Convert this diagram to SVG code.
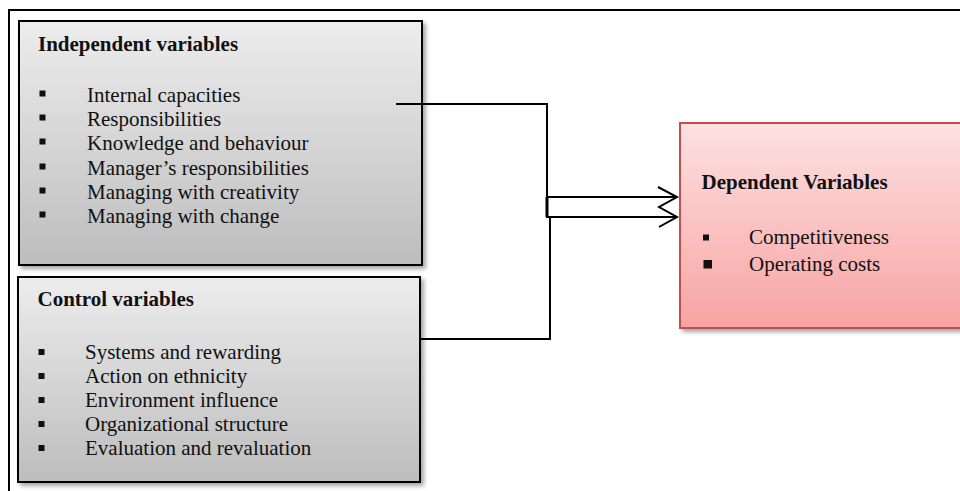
<svg xmlns="http://www.w3.org/2000/svg" width="960" height="491" viewBox="0 0 960 491">
  <style>
    text { font-family: "Liberation Serif", "Times New Roman", serif; font-size: 21px; fill: #111; }
    .title { font-weight: bold; }
    .bul { fill: #111; }
    .conn { fill: none; stroke: #000; stroke-width: 2; }
    .gbox { fill: url(#grayGrad); stroke: #000; stroke-width: 2; filter: url(#shadow); }
    .pbox { fill: url(#pinkGrad); stroke: #c0504d; stroke-width: 2; filter: url(#shadow); }
  </style>
  <defs>
    <linearGradient id="grayGrad" x1="0" y1="0" x2="0" y2="1">
      <stop offset="0" stop-color="#ededed"/>
      <stop offset="1" stop-color="#bdbdbd"/>
    </linearGradient>
    <linearGradient id="pinkGrad" x1="0" y1="0" x2="0" y2="1">
      <stop offset="0" stop-color="#fde1e1"/>
      <stop offset="1" stop-color="#f8a3a3"/>
    </linearGradient>
    <filter id="shadow" x="-5%" y="-5%" width="115%" height="115%">
      <feDropShadow dx="3" dy="3" stdDeviation="2" flood-color="#000" flood-opacity="0.35"/>
    </filter>
  </defs>
  <rect x="0" y="0" width="960" height="491" fill="#fff"/>
  <!-- outer frame -->
  <path d="M9,491 L9,10 L960,10" fill="none" stroke="#000" stroke-width="2"/>

  <g id="independent">
    <rect class="gbox" x="19" y="21" width="403" height="244"/>
    <text class="title" x="38" y="51">Independent variables</text>
    <rect class="bul" x="39.5" y="90.5" width="6" height="6"/>
    <text x="87" y="102">Internal capacities</text>
    <rect class="bul" x="39.5" y="114.5" width="6" height="6"/>
    <text x="87" y="126">Responsibilities</text>
    <rect class="bul" x="39.5" y="138.5" width="6" height="6"/>
    <text x="87" y="150">Knowledge and behaviour</text>
    <rect class="bul" x="39.5" y="163.5" width="6" height="6"/>
    <text x="87" y="175">Manager’s responsibilities</text>
    <rect class="bul" x="39.5" y="187.5" width="6" height="6"/>
    <text x="87" y="199">Managing with creativity</text>
    <rect class="bul" x="39.5" y="211.5" width="6" height="6"/>
    <text x="87" y="223">Managing with change</text>
  </g>

  <g id="control">
    <rect class="gbox" x="18" y="277" width="402" height="205"/>
    <text class="title" x="37.5" y="306">Control variables</text>
    <rect class="bul" x="38.5" y="349" width="6" height="6"/>
    <text x="85" y="359">Systems and rewarding</text>
    <rect class="bul" x="38.5" y="373" width="6" height="6"/>
    <text x="85" y="383">Action on ethnicity</text>
    <rect class="bul" x="38.5" y="397" width="6" height="6"/>
    <text x="85" y="407">Environment influence</text>
    <rect class="bul" x="38.5" y="421" width="6" height="6"/>
    <text x="85" y="431">Organizational structure</text>
    <rect class="bul" x="38.5" y="445" width="6" height="6"/>
    <text x="85" y="455">Evaluation and revaluation</text>
  </g>

  <g id="dependent">
    <rect class="pbox" x="680" y="123" width="300" height="205"/>
    <text class="title" x="701.5" y="189">Dependent Variables</text>
    <rect class="bul" x="703" y="234.5" width="6" height="6"/>
    <text x="749" y="244">Competitiveness</text>
    <rect class="bul" x="703.5" y="260" width="8.5" height="8.5"/>
    <text x="749" y="271">Operating costs</text>
  </g>

  <g id="connectors">
    <polyline class="conn" points="396,104 547,104 547,217"/>
    <polyline class="conn" points="420,339 550,339 550,216"/>
    <line x1="547" y1="197" x2="547" y2="217" stroke="#000" stroke-width="3"/>
    <line class="conn" x1="546" y1="197" x2="677" y2="197"/>
    <line class="conn" x1="546" y1="217" x2="677" y2="217"/>
    <polyline class="conn" points="658,187 677,197 659,207 677,217 659,227"/>
  </g>
</svg>
